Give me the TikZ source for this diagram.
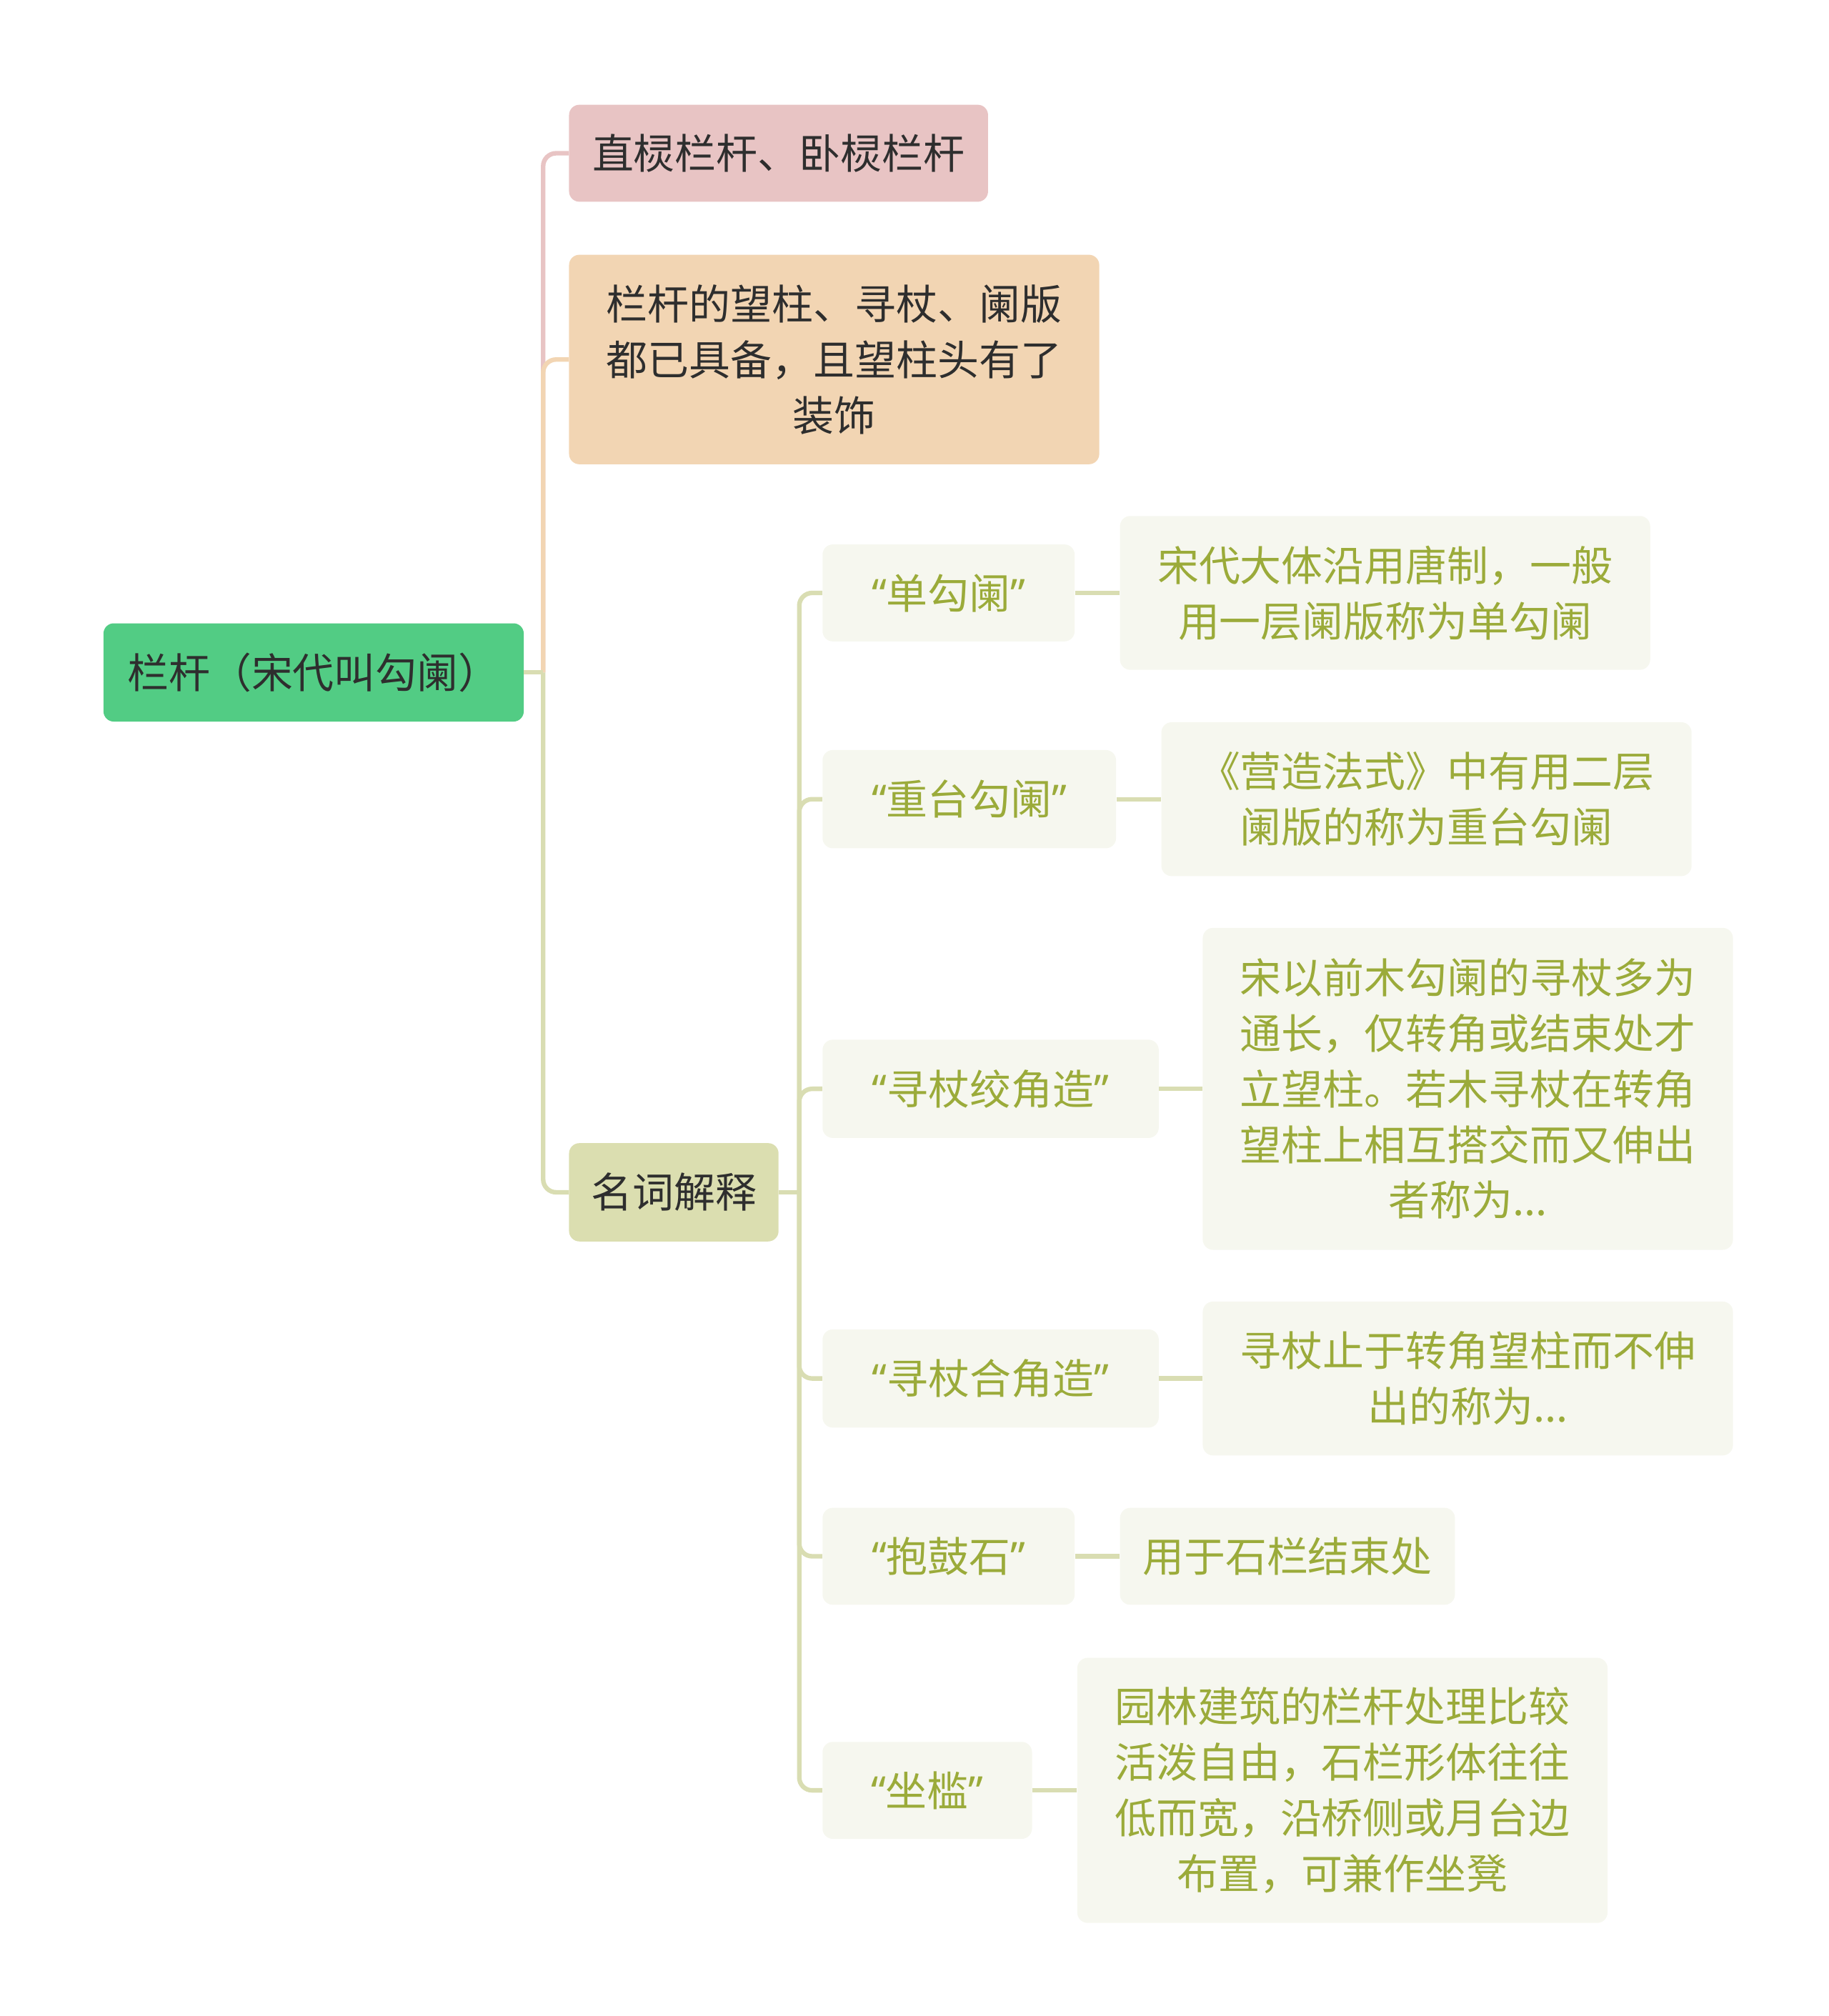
\documentclass[tikz,border=0pt]{standalone}
\usepackage{fontspec}
\newfontfamily\cjk{Noto Sans CJK SC}
\newfontfamily\quotefont{Noto Sans}
\usepackage{xcolor}
\definecolor{rootfill}{HTML}{52CC84}
\definecolor{pinkfill}{HTML}{E8C4C4}
\definecolor{peachfill}{HTML}{F2D5B3}
\definecolor{olivefill}{HTML}{DBDEB0}
\definecolor{termfill}{HTML}{F6F7EF}
\definecolor{termtext}{HTML}{9BAB3A}
\definecolor{darktext}{HTML}{2E2E2E}
\definecolor{linkolive}{HTML}{D9DDB2}
\newcommand{\qtxt}[1]{{\quotefont “}#1{\quotefont ”}}
\tikzset{
  topic/.style={rounded corners=8pt, inner sep=0pt, align=center,
    font=\cjk\fontsize{32}{43}\selectfont},
  mainbox/.style={topic, text=darktext},
  termbox/.style={topic, fill=termfill, text=termtext},
  branch/.style={line width=3.5pt, rounded corners=10pt}
}

\begin{document}
\begin{tikzpicture}[x=1pt,y=-1pt]
	\useasboundingbox (0,0) rectangle (1414,1559);
	% main topics
	\node[mainbox, fill=rootfill, minimum width=325pt, minimum height=76pt] (root) at (242.5,520) {栏杆（宋代叫勾阑）};
	\node[mainbox, fill=pinkfill, minimum width=324pt, minimum height=75pt] (A) at (602,118.5) {直棂栏杆、卧棂栏杆};
	\node[mainbox, fill=peachfill, minimum width=410pt, minimum height=162pt] (B) at (645,278) {栏杆的望柱、寻杖、阑版\\都已具备，且望柱头有了\\装饰};
	\node[mainbox, fill=olivefill, minimum width=162pt, minimum height=76pt] (C) at (521,922) {名词解释};

	% terms and their notes
	\node[termbox, minimum width=195pt, minimum height=75pt] (k1) at (733.5,458.5) {\qtxt{单勾阑}};
	\node[termbox, minimum width=410pt, minimum height=119pt] (d1) at (1071,458.5) {宋代大体沿用唐制，一般\\用一层阑版称为单勾阑};
	\node[termbox, minimum width=227pt, minimum height=76pt] (k2) at (749.5,618) {\qtxt{重台勾阑}};
	\node[termbox, minimum width=410pt, minimum height=119pt] (d2) at (1103,618) {《营造法式》中有用二层\\阑版的称为重台勾阑};
	\node[termbox, minimum width=260pt, minimum height=76pt] (k3) at (766,842) {\qtxt{寻杖绞角造}};
	\node[termbox, minimum width=410pt, minimum height=249pt] (d3) at (1135,842) {宋以前木勾阑的寻杖多为\\通长，仅转角或结束处才\\立望柱。若木寻杖在转角\\望柱上相互搭交而又伸出\\者称为...};
	\node[termbox, minimum width=260pt, minimum height=76pt] (k4) at (766,1066) {\qtxt{寻杖合角造}};
	\node[termbox, minimum width=410pt, minimum height=119pt] (d4) at (1135,1066) {寻杖止于转角望柱而不伸\\出的称为...};
	\node[termbox, minimum width=195pt, minimum height=75pt] (k5) at (733.5,1203.5) {\qtxt{抱鼓石}};
	\node[termbox, minimum width=259pt, minimum height=75pt] (d5) at (995.5,1203.5) {用于石栏结束处};
	\node[termbox, minimum width=162pt, minimum height=75pt] (k6) at (717,1384.5) {\qtxt{坐槛}};
	\node[termbox, minimum width=410pt, minimum height=205pt] (d6) at (1038,1384.5) {园林建筑的栏杆处理比较\\活泼自由，石栏形体往往\\低而宽，沿桥侧或月台边\\布置，可兼作坐凳};

	% connectors
	\coordinate (J) at (420,520);
	\coordinate (K) at (618,922);
	\draw[branch, draw=pinkfill] (J) |- (A.west);
	\draw[branch, draw=peachfill] (J) |- (B.west);
	\draw[branch, draw=linkolive] (root.east) -- (J);
	\draw[branch, draw=linkolive] (J) |- (C.west);
	\draw[branch, draw=linkolive] (C.east) -- (K);
	\foreach \i in {1,...,6}{% each term hangs off the second trunk
		\draw[branch, draw=linkolive] (K) |- (k\i.west);
		\draw[branch, draw=linkolive] (k\i.east) -- (d\i.west);
	}
\end{tikzpicture}
\end{document}
